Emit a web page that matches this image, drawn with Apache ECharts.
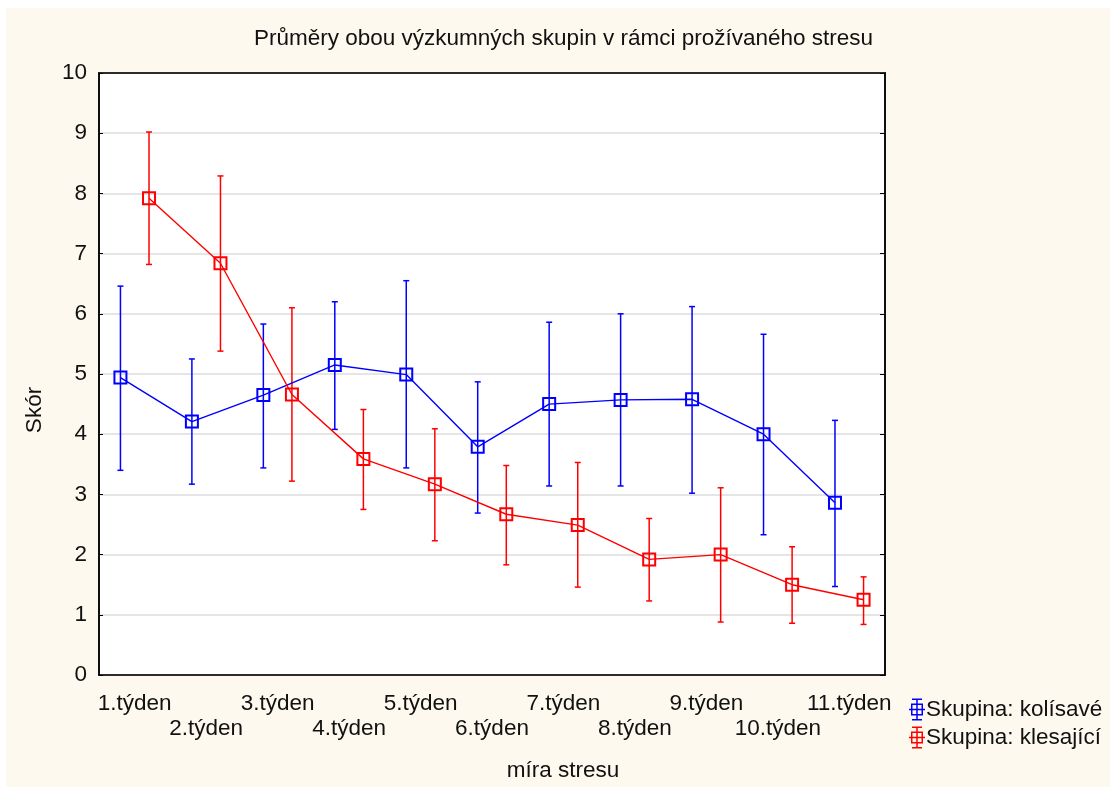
<!DOCTYPE html>
<html>
<head>
<meta charset="utf-8">
<script src="https://cdn.jsdelivr.net/npm/echarts@6/dist/echarts.min.js"></script>
<style>
  html, body { margin: 0; padding: 0; background: #fff; }
  #chart { position: absolute; left: 6px; top: 8px; width: 1104px; height: 779px; }
</style>
</head>
<body>
<div id="chart"></div>
<script>
// data
const weeks = ["1.týden", "2.týden", "3.týden", "4.týden", "5.týden", "6.týden",
  "7.týden", "8.týden", "9.týden", "10.týden", "11.týden"];

const kolisaveMean = [4.94, 4.21, 4.65, 5.15, 4.99, 3.79, 4.50, 4.57, 4.58, 4.00, 2.86];
const kolisaveLow  = [3.40, 3.17, 3.44, 4.08, 3.44, 2.69, 3.14, 3.14, 3.02, 2.33, 1.47];
const kolisaveHigh = [6.46, 5.25, 5.83, 6.20, 6.55, 4.87, 5.86, 6.00, 6.12, 5.66, 4.23];

const klesajiciMean = [7.92, 6.84, 4.66, 3.59, 3.17, 2.67, 2.49, 1.92, 2.00, 1.50, 1.25];
const klesajiciLow  = [6.82, 5.38, 3.22, 2.75, 2.23, 1.83, 1.46, 1.23, 0.88, 0.86, 0.84];
const klesajiciHigh = [9.02, 8.29, 6.10, 4.41, 4.09, 3.48, 3.53, 2.60, 3.11, 2.13, 1.63];

const BLUE = "#0000ff";
const RED = "#ff0000";
const FONT = "Liberation Sans";
const FS = 22.5;
const SHIFT = 0.2; // side-by-side offset of the two groups inside a category

// legend icon: error bar with square
const ICON = "path://M3 0H13V1.5H3Z M3 20.5H13V22H3Z M7.25 0H8.75V22H7.25Z " +
  "M2 5H14V6.5H2Z M2 15.5H14V17H2Z M2 5H3.5V17H2Z M12.5 5H14V17H12.5Z M0 10.25H16V11.75H0Z";

function pts(mean, dx) {
  return mean.map((v, i) => [i + 0.5 + dx, v]);
}
function bars(low, high, dx) {
  return low.map((v, i) => [i + 0.5 + dx, v, high[i]]);
}

function errorBar(color) {
  return function (params, api) {
    const x = api.value(0);
    const lo = api.coord([x, api.value(1)]);
    const hi = api.coord([x, api.value(2)]);
    const w = 3;
    const st = { stroke: color, lineWidth: 1.5 };
    return {
      type: "group",
      children: [
        { type: "line", shape: { x1: lo[0], y1: lo[1], x2: hi[0], y2: hi[1] }, style: st },
        { type: "line", shape: { x1: hi[0] - w, y1: hi[1], x2: hi[0] + w, y2: hi[1] }, style: st },
        { type: "line", shape: { x1: lo[0] - w, y1: lo[1], x2: lo[0] + w, y2: lo[1] }, style: st }
      ]
    };
  };
}

const chart = echarts.init(document.getElementById("chart"));

const option = {
  backgroundColor: "#fdf9ee",
  animation: false,
  textStyle: { fontFamily: FONT },
  title: {
    text: "Průměry obou výzkumných skupin v rámci prožívaného stresu",
    left: 243,
    top: 14,
    textStyle: { fontFamily: FONT, fontSize: FS, fontWeight: "normal", color: "#111" }
  },
  legend: {
    orient: "vertical",
    left: 898,
    top: 685,
    itemWidth: 16,
    itemHeight: 22,
    itemGap: 5,
    textStyle: { fontFamily: FONT, fontSize: FS, color: "#111", padding: [0, 0, 0, -4] },
    data: [
      { name: "Skupina: kolísavé", icon: ICON, itemStyle: { color: BLUE } },
      { name: "Skupina: klesající", icon: ICON, itemStyle: { color: RED } }
    ]
  },
  grid: {
    left: 93,
    right: 225,
    top: 65,
    bottom: 110,
    show: true,
    backgroundColor: "#ffffff",
    borderColor: "#000",
    borderWidth: 1.5
  },
  xAxis: [
    {
      type: "category",
      data: weeks,
      position: "bottom",
      axisLine: { lineStyle: { color: "#000", width: 1.5 } },
      axisTick: { inside: true, alignWithLabel: true, length: 5, lineStyle: { color: "#000" } },
      axisLabel: {
        fontFamily: FONT,
        fontSize: FS,
        color: "#111",
        margin: 16,
        lineHeight: 25,
        interval: 0,
        formatter: (v, i) => (i % 2 === 1 ? "\n" + v : v)
      },
      name: "míra stresu",
      nameLocation: "middle",
      nameGap: 84,
      nameTextStyle: { fontFamily: FONT, fontSize: FS, color: "#111", padding: [0, 0, 0, 142] }
    },
    {
      type: "value",
      min: 0,
      max: 11,
      show: false
    },
    {
      type: "category",
      data: weeks,
      position: "top",
      axisLine: { lineStyle: { color: "#000", width: 1.5 } },
      axisTick: { inside: true, alignWithLabel: true, length: 5, lineStyle: { color: "#000" } },
      axisLabel: { show: false }
    }
  ],
  yAxis: [
    {
      type: "value",
      min: 0,
      max: 10,
      interval: 1,
      axisLine: { show: true, lineStyle: { color: "#000", width: 1.5 } },
      axisTick: { show: true, inside: true, length: 4, lineStyle: { color: "#000" } },
      axisLabel: { fontFamily: FONT, fontSize: FS, color: "#111", margin: 12 },
      splitLine: { lineStyle: { color: "#dcdcdc", width: 1.5 } },
      name: "Skór",
      nameLocation: "middle",
      nameGap: 53,
      nameTextStyle: { fontFamily: FONT, fontSize: FS, color: "#111", padding: [0, 72, 0, 0] }
    },
    {
      type: "value",
      min: 0,
      max: 10,
      interval: 1,
      position: "right",
      axisLine: { show: true, lineStyle: { color: "#000", width: 1.5 } },
      axisTick: { show: true, inside: true, length: 5, lineStyle: { color: "#000" } },
      axisLabel: { show: false },
      splitLine: { show: false }
    }
  ],
  series: [
    {
      name: "Skupina: kolísavé",
      type: "custom",
      xAxisIndex: 1,
      renderItem: errorBar(BLUE),
      encode: { x: 0, y: [1, 2] },
      data: bars(kolisaveLow, kolisaveHigh, -SHIFT),
      z: 2
    },
    {
      name: "Skupina: klesající",
      type: "custom",
      xAxisIndex: 1,
      renderItem: errorBar(RED),
      encode: { x: 0, y: [1, 2] },
      data: bars(klesajiciLow, klesajiciHigh, SHIFT),
      z: 2
    },
    {
      name: "Skupina: kolísavé",
      type: "line",
      xAxisIndex: 1,
      data: pts(kolisaveMean, -SHIFT),
      symbol: "rect",
      symbolSize: 12,
      lineStyle: { color: BLUE, width: 1.4 },
      itemStyle: { color: "rgba(0,0,0,0)", borderColor: BLUE, borderWidth: 2 },
      z: 3
    },
    {
      name: "Skupina: klesající",
      type: "line",
      xAxisIndex: 1,
      data: pts(klesajiciMean, SHIFT),
      symbol: "rect",
      symbolSize: 12,
      lineStyle: { color: RED, width: 1.4 },
      itemStyle: { color: "rgba(0,0,0,0)", borderColor: RED, borderWidth: 2 },
      z: 3
    }
  ]
};

chart.setOption(option);
window.addEventListener("resize", () => chart.resize());
</script>
</body>
</html>
